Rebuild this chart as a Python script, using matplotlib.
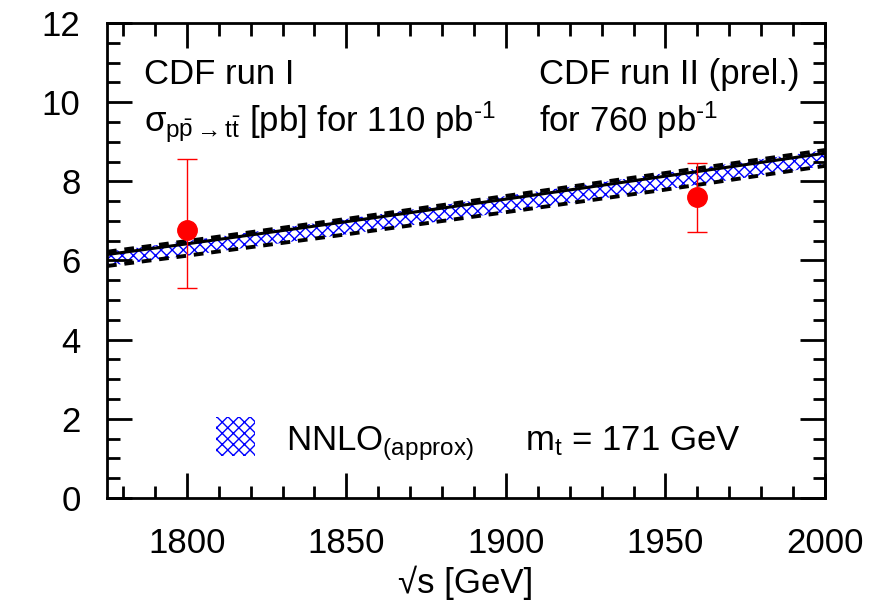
import matplotlib
matplotlib.use("Agg")
import matplotlib.pyplot as plt
from matplotlib.ticker import MultipleLocator
from matplotlib.patches import Rectangle

plt.rcParams['font.family'] = ['Liberation Sans', 'DejaVu Sans']
plt.rcParams['mathtext.fontset'] = 'custom'
plt.rcParams['mathtext.rm'] = 'Liberation Sans'
plt.rcParams['mathtext.it'] = 'Liberation Sans'
plt.rcParams['mathtext.bf'] = 'Liberation Sans:bold'
plt.rcParams['hatch.linewidth'] = 1.0

# NNLO(approx) theory band, m_t = 171 GeV
sqrt_s = [1775, 1800, 1850, 1900, 1950, 2000]
nnlo_central = [6.15, 6.42, 6.98, 7.55, 8.13, 8.71]
nnlo_upper = [6.22, 6.49, 7.05, 7.63, 8.21, 8.79]
nnlo_lower = [5.86, 6.12, 6.66, 7.22, 7.79, 8.39]

# CDF measurements
cdf_energy = [1800, 1960]
cdf_xsec = [6.76, 7.60]
cdf_err_up = [1.81, 0.87]
cdf_err_down = [1.46, 0.87]

fig = plt.figure(figsize=(8.8, 6.04), dpi=100)
ax = fig.add_axes([0.1216, 0.1755, 0.8159, 0.7865])

ax.fill_between(sqrt_s, nnlo_lower, nnlo_upper, facecolor='white',
                edgecolor='blue', hatch='xxx', linewidth=0)
ax.plot(sqrt_s, nnlo_central, color='black', lw=2.2)
ax.plot(sqrt_s, nnlo_upper, color='black', lw=2.8, dashes=(2.5, 2))
ax.plot(sqrt_s, nnlo_lower, color='black', lw=2.8, dashes=(2.5, 2))

ax.errorbar(cdf_energy, cdf_xsec, yerr=[cdf_err_down, cdf_err_up], fmt='o',
            color='red', ms=14, elinewidth=1, capsize=7, capthick=1, zorder=5)

ax.set_xlim(1775, 2000)
ax.set_ylim(0, 12)
ax.xaxis.set_major_locator(MultipleLocator(50))
ax.xaxis.set_minor_locator(MultipleLocator(10))
ax.yaxis.set_major_locator(MultipleLocator(2))
ax.yaxis.set_minor_locator(MultipleLocator(0.5))
ax.tick_params(which='both', direction='in', top=True, right=True,
               labelsize=25, width=2)
ax.tick_params(which='major', length=18)
ax.tick_params(which='minor', length=9)
ax.tick_params(axis='x', pad=21)
ax.tick_params(axis='y', pad=19)
for s in ax.spines.values():
    s.set_linewidth(2)

ax.set_xlabel('\u221as [GeV]', fontsize=25, labelpad=4)

inv_pb = 'pb$^{\\mathrm{\u20101}}$'
ax.text(1786.5, 10.45, 'CDF run I', fontsize=25)
ax.text(1786.5, 9.25, r'$\sigma_{\mathrm{p\bar{p}\rightarrow t\bar{t}}}$ [pb] for 110 ' + inv_pb,
        fontsize=25)
ax.text(1910.5, 10.45, 'CDF run II (prel.)', fontsize=25)
ax.text(1910.5, 9.25, 'for 760 ' + inv_pb, fontsize=25)

ax.add_patch(Rectangle((1809, 1.05), 12.5, 1.0, facecolor='white',
                       edgecolor='blue', hatch='xxx', linewidth=0))
ax.text(1831, 1.2, r'NNLO$_{\mathrm{(approx)}}$', fontsize=25)
ax.text(1906, 1.2, r'm$_{\mathrm{t}}$ = 171 GeV', fontsize=25)

fig.savefig('out.png', dpi=100)
